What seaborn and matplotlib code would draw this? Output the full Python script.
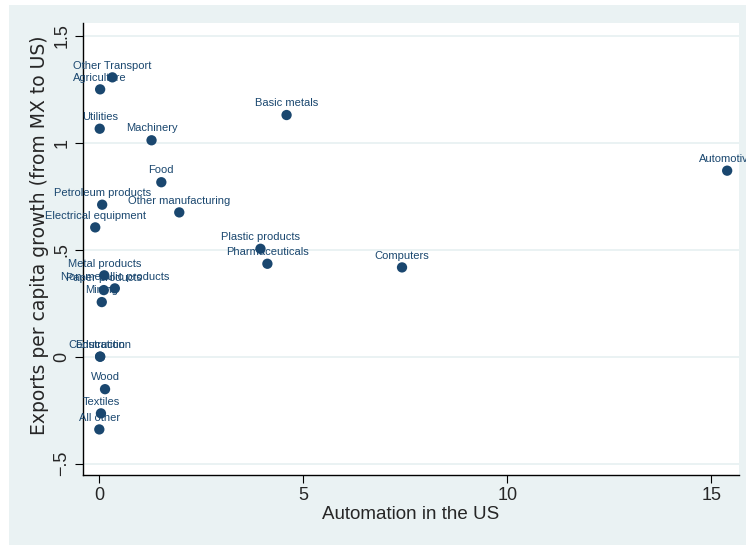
import numpy as np
import pandas as pd
import matplotlib
matplotlib.use("Agg")
import matplotlib.pyplot as plt
import seaborn as sns
from matplotlib.patches import Rectangle

# -------------------------------
# Data
# -------------------------------
sectors = ["Other Transport", "Agriculture", "Utilities", "Machinery", "Basic metals",
           "Food", "Automotive", "Petroleum products", "Other manufacturing",
           "Electrical equipment", "Plastic products", "Pharmaceuticals", "Computers",
           "Metal products", "Non-metallic products", "Paper products", "Mining",
           "Construction", "Education", "Wood", "Textiles", "All other"]
automation = [0.32, 0.02, 0.01, 1.28, 4.59,
              1.52, 15.39, 0.07, 1.96,
              -0.10, 3.95, 4.12, 7.42,
              0.12, 0.38, 0.11, 0.06,
              0.02, 0.02, 0.14, 0.04, 0.0]
export_growth = [1.305, 1.249, 1.065, 1.011, 1.129,
                 0.815, 0.869, 0.710, 0.674,
                 0.604, 0.504, 0.434, 0.417,
                 0.380, 0.319, 0.311, 0.255,
                 0.0, 0.0, -0.152, -0.265, -0.340]
y_ticks = [-0.5, 0, 0.5, 1, 1.5]
y_tick_labels = ["\u2212.5", "0", ".5", "1", "1.5"]
x_ticks = [0, 5, 10, 15]

df = pd.DataFrame({"sector": sectors, "automation": automation, "growth": export_growth})

navy = "#1a476f"
bg = "#eaf2f3"

sns.set_style("ticks")
plt.rcParams["font.family"] = ["Liberation Sans", "DejaVu Sans"]

fig = plt.figure(figsize=(7.46, 5.45), dpi=100)
fig.patch.set_facecolor("white")
# light graph region behind the white plot region
fig.add_artist(Rectangle((9 / 746, 0), 1, 1 - 5 / 545, transform=fig.transFigure,
                         facecolor=bg, edgecolor="none", zorder=-10))

ax = fig.add_axes([83 / 746, 70 / 545, 656 / 746, 452 / 545])
ax.set_zorder(5)
ax.set_facecolor("white")

sns.scatterplot(data=df, x="automation", y="growth", color=navy, s=55,
                edgecolor="none", ax=ax, zorder=3)

# marker labels above each point
for _, r in df.iterrows():
    ax.annotate(r["sector"], (r["automation"], r["growth"]), xytext=(0, 8.5),
                textcoords="offset points", ha="center", va="center",
                fontsize=8, color=navy, zorder=4, annotation_clip=False)

ax.set_xlim(-0.40, 15.68)
ax.set_ylim(-0.553, 1.559)
ax.set_yticks(y_ticks)
ax.set_yticklabels(y_tick_labels, rotation=90, va="center")
ax.set_xticks(x_ticks)
for y in y_ticks:
    ax.axhline(y, color=bg, lw=1.4, zorder=1)

ax.tick_params(axis="both", labelsize=13, length=6, width=0.8, color="black", pad=3)
for side in ["top", "right"]:
    ax.spines[side].set_visible(False)
for side in ["left", "bottom"]:
    ax.spines[side].set_color("black")
    ax.spines[side].set_linewidth(1.0)

ax.set_xlabel("Automation in the US", fontsize=13.5, labelpad=1)
ax.set_ylabel("Exports per capita growth (from MX to US)", fontsize=13.5,
              family="DejaVu Sans", labelpad=3)
ax.yaxis.label.set_y(0.531)

fig.savefig("out.png", dpi=100, facecolor=fig.get_facecolor())
